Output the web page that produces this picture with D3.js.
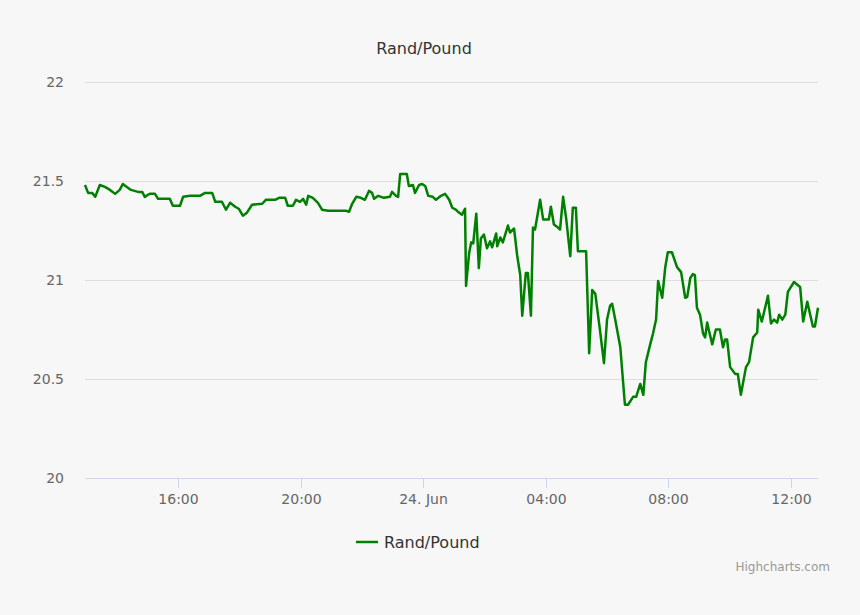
<!DOCTYPE html>
<html>
<head>
<meta charset="utf-8">
<script src="https://cdn.jsdelivr.net/npm/d3@7"></script>
<style>
  body { margin: 0; background: #f7f7f7; }
  text { font-family: "DejaVu Sans", sans-serif; }
</style>
</head>
<body>
<svg id="chart" width="860" height="615"></svg>
<script>
// minutes since 23 Jun 00:00
var minutes = [778,784,792,798,807,817,827,837,846,852,860,868,882,890,895,901,905,915,921,935,944,950,964,970,984,1003,1013,1027,1033,1046,1054,1062,1072,1079,1087,1095,1105,1125,1132,1150,1158,1170,1175,1185,1191,1199,1205,1211,1215,1224,1234,1242,1254,1289,1295,1301,1309,1318,1326,1334,1340,1344,1352,1363,1375,1379,1387,1391,1395,1408,1412,1420,1424,1432,1438,1444,1450,1459,1465,
  1475,1483,1491,1497,1504,1508,1516,1522,1524,1530,1534,1538,1544,1549,1553,1559,1565,1571,1575,1583,1585,1591,1596,1606,1610,1618,1624,1630,1634,1641,1645,1651,1655,1659,1669,1675,1686,1690,1696,1704,1708,1714,1720,1728,1733,1739,1743,1759,1765,1771,1777,1786,1794,1800,1806,1810,1816,
  1826,1835,1841,1851,1857,1865,1871,1876,1884,1890,1896,1900,1908,1914,1919,1927,1937,1945,1953,1957,1963,1968,1972,1976,1982,1988,1992,1996,1999,2006,2013,2021,2027,2031,2035,2041,2051,2056,2062,2072,2078,2086,2094,2096,2103,2115,2121,2127,2133,2137,2143,2149,2154,2166,2178,2184,2192,2203,2207,2213];
var rates = [21.48,21.44,21.44,21.42,21.48,21.47,21.455,21.435,21.455,21.485,21.47,21.455,21.445,21.445,21.42,21.43,21.435,21.435,21.41,21.41,21.41,21.375,21.375,21.42,21.425,21.425,21.44,21.44,21.395,21.395,21.355,21.39,21.37,21.36,21.325,21.34,21.38,21.385,21.405,21.405,21.415,21.415,21.375,21.375,21.405,21.395,21.41,21.38,21.425,21.415,21.39,21.355,21.35,21.35,21.345,21.385,21.42,21.415,21.405,21.45,21.44,21.41,21.425,21.415,21.42,21.445,21.425,21.42,21.535,21.535,21.475,21.48,21.44,21.48,21.485,21.475,21.425,21.42,21.405,
  21.425,21.435,21.405,21.365,21.355,21.345,21.33,21.36,20.97,21.135,21.19,21.185,21.335,21.06,21.21,21.23,21.16,21.195,21.165,21.235,21.17,21.215,21.19,21.275,21.24,21.26,21.125,21.025,20.82,21.035,21.035,20.82,21.265,21.255,21.405,21.305,21.305,21.37,21.28,21.265,21.255,21.42,21.31,21.12,21.365,21.365,21.145,21.145,20.63,20.95,20.93,20.75,20.58,20.8,20.87,20.88,20.8,
  20.66,20.37,20.37,20.41,20.41,20.475,20.42,20.585,20.67,20.73,20.8,20.995,20.91,21.065,21.14,21.14,21.065,21.04,20.91,20.915,21.01,21.03,21.025,20.86,20.825,20.73,20.71,20.785,20.75,20.675,20.75,20.75,20.66,20.7,20.7,20.56,20.525,20.525,20.42,20.56,20.585,20.71,20.735,20.85,20.79,20.92,20.78,20.8,20.785,20.825,20.8,20.825,20.94,20.99,20.965,20.79,20.89,20.765,20.765,20.86];
var yTicks = [20, 20.5, 21, 21.5, 22];
var xTicks = [16, 20, 24, 28, 32, 36]; // hours since 23 Jun 00:00
var tickLabels = ["16:00", "20:00", "24. Jun", "04:00", "08:00", "12:00"];

var base = new Date(2016, 5, 23);
function toDate(m) { return new Date(base.getTime() + m * 60000); }

var n = Math.min(minutes.length, rates.length);
var points = [];
for (var i = 0; i < n; i++) points.push([toDate(minutes[i]), rates[i]]);

var svg = d3.select("#chart");
var plotLeft = 85, plotRight = 818, plotTop = 82, plotBottom = 478;

var x = d3.scaleTime()
  .domain([toDate(minutes[0]), toDate(minutes[minutes.length - 1])])
  .range([plotLeft, plotRight]);
var y = d3.scaleLinear().domain([20, 22]).range([plotBottom, plotTop]);

svg.append("text").text("Rand/Pound")
  .attr("x", 424).attr("y", 54).attr("text-anchor", "middle")
  .attr("font-size", "16px").attr("fill", "#333");

svg.selectAll(".grid").data(yTicks.slice(1)).enter().append("line")
  .attr("x1", plotLeft).attr("x2", plotRight)
  .attr("y1", function(d) { return Math.round(y(d)) + 0.5; })
  .attr("y2", function(d) { return Math.round(y(d)) + 0.5; })
  .attr("stroke", "#dedede");

svg.selectAll(".ylab").data(yTicks).enter().append("text")
  .text(function(d) { return d; })
  .attr("x", 64).attr("y", function(d) { return y(d) + 5; })
  .attr("text-anchor", "end").attr("font-size", "14px").attr("fill", "#666");

svg.append("line").attr("x1", plotLeft).attr("x2", plotRight)
  .attr("y1", plotBottom + 0.5).attr("y2", plotBottom + 0.5).attr("stroke", "#ccd6eb");

xTicks.forEach(function(h, i) {
  var px = Math.round(x(toDate(h * 60))) + 0.5;
  svg.append("line").attr("x1", px).attr("x2", px)
    .attr("y1", plotBottom).attr("y2", plotBottom + 10).attr("stroke", "#ccd6eb");
  svg.append("text").text(tickLabels[i])
    .attr("x", px).attr("y", plotBottom + 26).attr("text-anchor", "middle")
    .attr("font-size", "14px").attr("fill", "#666");
});

var line = d3.line()
  .x(function(d) { return x(d[0]); })
  .y(function(d) { return y(d[1]); });

svg.append("path").datum(points)
  .attr("d", line).attr("fill", "none")
  .attr("stroke", "#008000").attr("stroke-width", 2.5)
  .attr("stroke-linejoin", "round");

// legend
svg.append("line").attr("x1", 356).attr("x2", 378).attr("y1", 542).attr("y2", 542)
  .attr("stroke", "#008000").attr("stroke-width", 2.5);
svg.append("text").text("Rand/Pound")
  .attr("x", 384).attr("y", 548).attr("font-size", "16px").attr("fill", "#333");

svg.append("text").text("Highcharts.com")
  .attr("x", 830).attr("y", 571).attr("text-anchor", "end")
  .attr("font-size", "12px").attr("fill", "#999");
</script>
</body>
</html>
